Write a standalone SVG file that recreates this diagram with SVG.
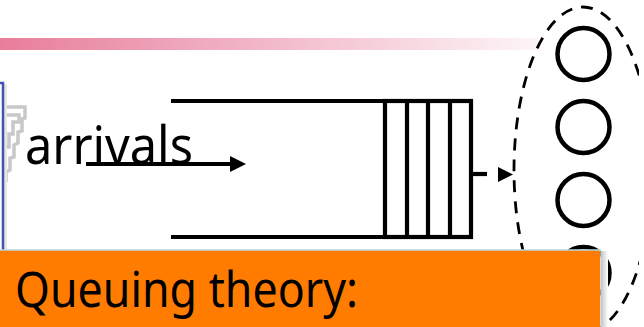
<svg xmlns="http://www.w3.org/2000/svg" width="644" height="327" viewBox="0 0 644 327">
<style>
.l{fill:none;stroke:#000;stroke-width:4.200}
.c{fill:none;stroke:#000;stroke-width:4.500}
.g{fill:none;stroke:#c8c8c8;stroke-width:3.500}
text{font-family:"Noto Sans","Open Sans",sans-serif;fill:#000}
</style>
<defs>
<linearGradient id="bar" gradientUnits="userSpaceOnUse" x1="0" x2="585" y1="0" y2="0"><stop offset="0" stop-color="#e87d9b"/><stop offset="1" stop-color="#ffffff"/></linearGradient>
<linearGradient id="sh" x1="0" x2="1" y1="0" y2="0"><stop offset="0" stop-color="#c4c4c4"/><stop offset="1" stop-color="#fff"/></linearGradient>
<clipPath id="win"><rect x="0" y="0" width="639" height="327"/></clipPath>
</defs>
<rect width="644" height="327" fill="#fff"/>
<rect x="0" y="38" width="538" height="12" fill="url(#bar)"/>
<g id="logo">
<path class="g" d="M4 107H25V118L22 119V131L18 132V143L14 145V157L10 158V170L6 172V182"/>
<path class="g" d="M4 115H19V122H13V134H9V147H6"/>
<rect x="4" y="84" width="3" height="166" fill="#e6e6e6"/>
<path d="M0 83H3V250" fill="none" stroke="#4650b0" stroke-width="2.500"/>
</g>
<g id="connectors">
<path class="l" d="M171 101H471M171 237H471"/>
<path d="M86 164H232" class="l"/><path d="M230 156L246 164L230 172Z"/>
<path d="M471 174H487" class="l"/><path d="M498 167L513 174.500L498 182Z"/>
</g>
<g id="queue">
<rect x="385" y="101" width="86" height="136" class="l"/>
<path class="l" d="M407 101V237M428 101V237M450 101V237"/>
</g>
<g id="servers" clip-path="url(#win)">
<ellipse cx="583" cy="170" rx="69" ry="163" fill="none" stroke="#000" stroke-width="2.800" stroke-dasharray="12 9"/>
<circle cx="583.500" cy="54" r="26" class="c"/>
<circle cx="583.500" cy="127" r="26" class="c"/>
<circle cx="583.500" cy="200" r="26" class="c"/>
<circle cx="583.500" cy="273" r="26" class="c"/>
</g>
<rect x="639" y="0" width="5" height="327" fill="#fff"/>
<text id="arrivals" x="25" y="164" font-size="53" textLength="168" lengthAdjust="spacingAndGlyphs">arrivals</text>
<g id="caption">
<rect x="601" y="251" width="7" height="76" fill="url(#sh)"/>
<rect x="0" y="250" width="600" height="77" fill="#ff7c00" stroke="#b9d9dc" stroke-width="1.500"/>
<rect x="0" y="251" width="600" height="76" fill="#ff7c00"/>
<text x="15" y="307" font-size="49" textLength="343" lengthAdjust="spacingAndGlyphs">Queuing theory:</text>
</g>
</svg>
